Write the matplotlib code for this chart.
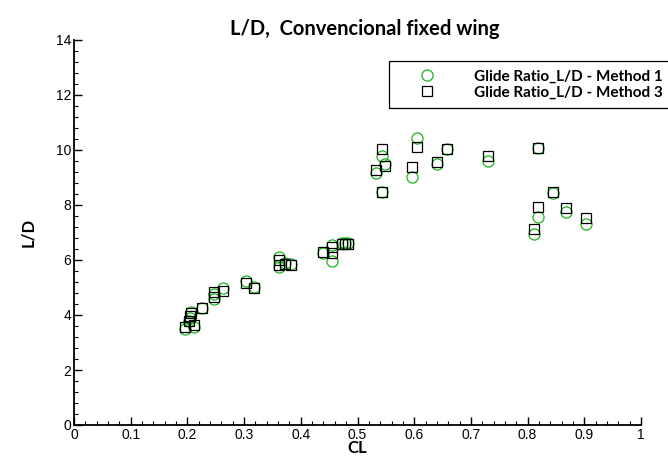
import numpy as np
import matplotlib
matplotlib.use("Agg")
import matplotlib.pyplot as plt
from matplotlib.ticker import MultipleLocator

# lift coefficient of each case
cl = [0.196, 0.212, 0.202, 0.204, 0.207, 0.226, 0.247, 0.247, 0.263,
      0.304, 0.317, 0.362, 0.362, 0.372, 0.383, 0.439, 0.455, 0.455,
      0.473, 0.478, 0.483, 0.533, 0.543, 0.549, 0.543, 0.596, 0.605,
      0.640, 0.658, 0.730, 0.811, 0.818, 0.818, 0.845, 0.868, 0.903]

# glide ratio, method 1 (circles)
ld_method1 = [3.50, 3.58, 3.80, 3.90, 4.12, 4.27, 4.58, 4.75, 5.00,
              5.22, 5.02, 6.12, 5.75, 5.90, 5.85, 6.25, 5.97, 6.55,
              6.62, 6.62, 6.62, 9.15, 9.78, 9.48, 8.47, 9.02, 10.42,
              9.49, 10.05, 9.60, 6.93, 7.56, 10.08, 8.45, 7.76, 7.30]

# glide ratio, method 3 (squares)
ld_method3 = [3.55, 3.62, 3.78, 3.95, 4.08, 4.25, 4.65, 4.82, 4.88,
              5.18, 5.00, 6.00, 5.82, 5.85, 5.82, 6.30, 6.25, 6.48,
              6.60, 6.60, 6.60, 9.27, 10.05, 9.42, 8.47, 9.38, 10.10,
              9.56, 10.05, 9.78, 7.13, 7.92, 10.08, 8.47, 7.88, 7.52]

W, H = 668, 457
fig = plt.figure(figsize=(W / 100, H / 100), dpi=100)
ax = fig.add_axes([74 / W, 1 - 425 / H, (641 - 74) / W, (425 - 40) / H])

ax.plot(cl, ld_method1, linestyle='none', marker='o', markersize=8,
        markerfacecolor='none', markeredgecolor='#1db31d', markeredgewidth=0.9,
        label='Glide Ratio_L/D - Method 1')
ax.plot(cl, ld_method3, linestyle='none', marker='s', markersize=6.5,
        markerfacecolor='none', markeredgecolor='black', markeredgewidth=0.9,
        label='Glide Ratio_L/D - Method 3')

ax.set_xlim(0, 1)
ax.set_ylim(0, 14)
ax.xaxis.set_major_locator(MultipleLocator(0.1))
ax.xaxis.set_minor_locator(MultipleLocator(0.02))
ax.yaxis.set_major_locator(MultipleLocator(2))
ax.yaxis.set_minor_locator(MultipleLocator(0.4))
ax.set_xticks(np.arange(0, 1.01, 0.1))
ax.set_xticklabels(['0', '0.1', '0.2', '0.3', '0.4', '0.5', '0.6', '0.7', '0.8', '0.9', '1'])

for side in ['top', 'right']:
    ax.spines[side].set_visible(False)
for side in ['left', 'bottom']:
    ax.spines[side].set_linewidth(1.3)

ax.tick_params(which='major', direction='in', length=6, width=1.0,
               labelsize=10, pad=2)
ax.tick_params(which='minor', direction='in', length=3, width=0.8)
for lab in ax.get_xticklabels() + ax.get_yticklabels():
    lab.set_fontfamily('Liberation Sans')

ax.set_xlabel('CL', fontsize=12, fontweight='bold', family='Lato', labelpad=-1)
ax.set_ylabel('L/D', fontsize=12, fontweight='bold', family='Lato', labelpad=14)

fig.text(365 / W, 1 - 29 / H, 'L/D,  Convencional fixed wing', ha='center', va='center',
         fontsize=14.5, fontweight='bold', family='Lato')

leg = ax.legend(loc='upper left', bbox_to_anchor=(389 / W, 1 - 61 / H),
                bbox_transform=fig.transFigure, fancybox=False, frameon=True,
                edgecolor='black', framealpha=1, borderaxespad=0,
                borderpad=0.55, handlelength=3.9, handletextpad=1.1,
                labelspacing=0.15, prop={'family': 'Lato', 'weight': 'bold', 'size': 11})
leg.get_frame().set_linewidth(0.9)

fig.savefig('out.png', dpi=100)
